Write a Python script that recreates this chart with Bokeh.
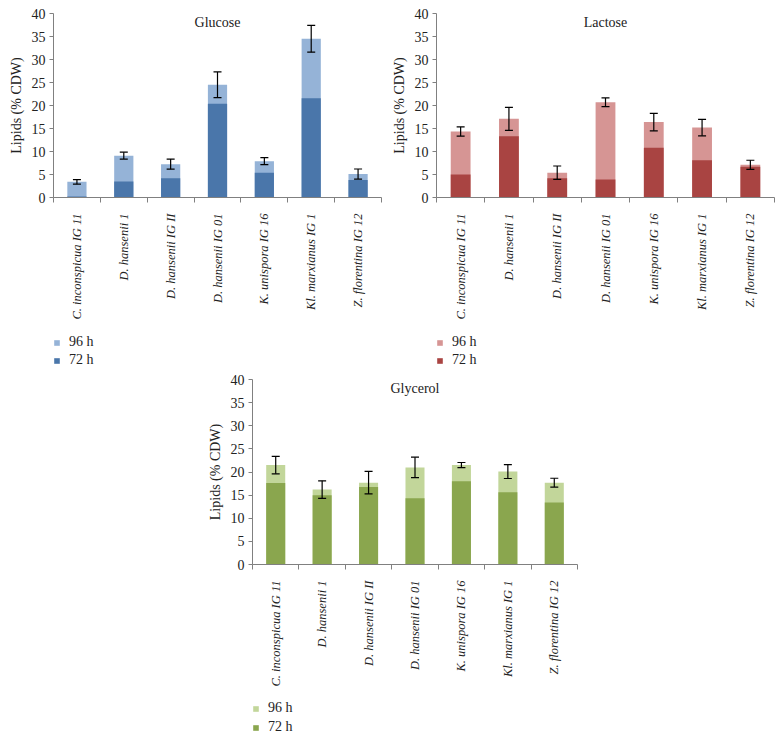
from bokeh.plotting import figure
from bokeh.models import (ColumnDataSource, FixedTicker, LinearAxis, Legend, LegendItem,
                          Label, Whisker, Range1d, Spacer)
from bokeh.layouts import column, row
from bokeh.embed import file_html
from bokeh.resources import INLINE

strains = ["C. inconspicua IG 11", "D. hansenii 1", "D. hansenii IG II", "D. hansenii IG 01",
           "K. unispora IG 16", "Kl. marxianus IG 1", "Z. florentina IG 12"]
y_ticks = [0, 5, 10, 15, 20, 25, 30, 35, 40]
series_labels = ["96 h", "72 h"]

glucose_72 = [0.2, 3.5, 4.2, 20.4, 5.4, 21.6, 3.8]
glucose_96 = [3.4, 9.1, 7.25, 24.5, 7.9, 34.5, 5.1]
glucose_err = [0.5, 0.75, 1.1, 2.8, 0.75, 2.9, 1.1]

lactose_72 = [5.0, 13.3, 4.2, 3.9, 10.8, 8.1, 6.7]
lactose_96 = [14.35, 17.1, 5.4, 20.7, 16.4, 15.2, 7.1]
lactose_err = [1.0, 2.5, 1.45, 0.95, 1.9, 1.8, 1.0]

glycerol_72 = [17.6, 14.95, 16.75, 14.3, 18.0, 15.6, 13.4]
glycerol_96 = [21.5, 16.2, 17.7, 21.0, 21.5, 20.1, 17.7]
glycerol_err = [1.9, 1.9, 2.45, 2.2, 0.55, 1.5, 0.95]

FONT = "Liberation Serif"
AXIS_COLOR = "#808080"
TEXT_COLOR = "#222222"


def make_panel(title, v72, v96, err, c72, c96, frame_w, frame_h, left, right, top, bottom):
    n = len(strains)
    xs = [i + 0.5 for i in range(n)]
    src = ColumnDataSource(dict(x=xs, v72=v72, v96=v96,
                                lo=[a - e for a, e in zip(v96, err)],
                                hi=[a + e for a, e in zip(v96, err)]))
    p = figure(frame_width=frame_w, frame_height=frame_h, x_range=Range1d(0, n),
               y_range=Range1d(0, 40), output_backend="svg", toolbar_location=None,
               min_border_left=left, min_border_right=right, min_border_top=top,
               min_border_bottom=bottom, x_axis_type=None, outline_line_color=None)
    p.xgrid.visible = False
    p.ygrid.visible = False
    p.vbar(x="x", top="v96", bottom=0, width=0.41, source=src, fill_color=c96,
           line_color=None)
    p.vbar(x="x", top="v72", bottom=0, width=0.41, source=src, fill_color=c72,
           line_color=None)
    w = Whisker(source=src, base="x", lower="lo", upper="hi", line_color="black",
                line_width=1.2, level="overlay")
    for h in (w.upper_head, w.lower_head):
        h.size = 8
        h.line_color = "black"
        h.line_width = 1.2
    p.add_layout(w)

    yax = p.yaxis[0]
    yax.ticker = FixedTicker(ticks=y_ticks)
    yax.axis_label = "Lipids (% CDW)"
    yax.axis_label_text_font = FONT
    yax.axis_label_text_font_style = "normal"
    yax.axis_label_text_font_size = "14px"
    yax.axis_label_text_color = TEXT_COLOR
    yax.axis_label_standoff = 5
    yax.major_label_text_font = FONT
    yax.major_label_text_font_size = "14px"
    yax.major_label_text_color = TEXT_COLOR
    yax.axis_line_color = AXIS_COLOR
    yax.major_tick_line_color = AXIS_COLOR
    yax.major_tick_in = 0
    yax.major_tick_out = 4
    yax.minor_tick_line_color = None
    yax.major_label_standoff = 4

    xax = LinearAxis(ticker=FixedTicker(ticks=xs, minor_ticks=list(range(n + 1))),
                     major_label_overrides={x: s for x, s in zip(xs, strains)},
                     major_label_orientation=1.5708, major_label_text_font=FONT,
                     major_label_text_font_style="italic",
                     major_label_text_font_size="12.5px", major_label_text_color=TEXT_COLOR,
                     axis_line_color=AXIS_COLOR, major_tick_line_color=None,
                     major_tick_in=0, major_tick_out=5,
                     minor_tick_line_color=AXIS_COLOR, minor_tick_in=0, minor_tick_out=5,
                     major_label_standoff=11)
    p.add_layout(xax, "below")

    p.add_layout(Label(x=n / 2, y=38.0, text=title, text_align="center",
                       text_baseline="middle", text_font=FONT, text_font_size="14px",
                       text_color=TEXT_COLOR))
    return p


def make_legend(c72, c96, total_w, left, frame_h, spacing):
    p = figure(frame_width=total_w - left, frame_height=frame_h, output_backend="svg",
               toolbar_location=None, min_border_left=left, min_border_right=0,
               min_border_top=0, min_border_bottom=0, x_axis_type=None, y_axis_type=None,
               outline_line_color=None, x_range=Range1d(0, 1), y_range=Range1d(0, 1))
    # legend swatch renderers, kept outside the visible range
    r96 = p.vbar(x=[-5], top=[-5], bottom=[-6], width=0.1, fill_color=c96, line_color=None)
    r72 = p.vbar(x=[-5], top=[-5], bottom=[-6], width=0.1, fill_color=c72, line_color=None)
    legend = Legend(items=[LegendItem(label=series_labels[0], renderers=[r96]),
                           LegendItem(label=series_labels[1], renderers=[r72])],
                    location="top_left", orientation="vertical",
                    background_fill_alpha=0, border_line_color=None, padding=0, margin=0,
                    glyph_width=7, glyph_height=7, label_height=14, spacing=spacing,
                    label_standoff=9, label_text_font=FONT, label_text_font_size="14px",
                    label_text_color=TEXT_COLOR, label_text_baseline="middle")
    p.add_layout(legend, "center")
    return p


g = make_panel("Glucose", glucose_72, glucose_96, glucose_err, "#4A76AA", "#95B3D7",
               328, 184, 52, 5, 13, 137)
g_leg = make_legend("#4A76AA", "#95B3D7", 385, 53, 33, 2)
l = make_panel("Lactose", lactose_72, lactose_96, lactose_err, "#A94442", "#D69594",
               338, 184, 50, 5, 13, 137)
l_leg = make_legend("#A94442", "#D69594", 393, 51, 33, 2)
gl = make_panel("Glycerol", glycerol_72, glycerol_96, glycerol_err, "#8AA64E", "#C2D69A",
                325, 185, 52, 5, 12, 136)
gl_leg = make_legend("#8AA64E", "#C2D69A", 382, 53, 36, 3)

layout = column(row(column(g, g_leg), column(l, l_leg)),
                row(Spacer(width=199, height=10), column(gl, gl_leg)))
open("out.html", "w").write(file_html(layout, INLINE))
